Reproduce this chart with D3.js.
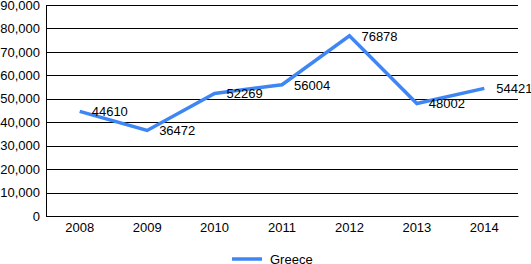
<!DOCTYPE html>
<html>
<head>
<meta charset="utf-8">
<script src="https://cdn.jsdelivr.net/npm/d3@7"></script>
<style>
  body { margin: 0; background: #fff; }
  text { font-family: "Liberation Sans", Arial, sans-serif; }
</style>
</head>
<body>
<script>
// data
var yearArray = ["2008","2009","2010","2011","2012","2013","2014"];
var greeceValues = [44610, 36472, 52269, 56004, 76878, 48002, 54421];
var seriesName = "Greece";
var yTicks = [0,10000,20000,30000,40000,50000,60000,70000,80000,90000];

var width = 531, height = 264;
var margin = {left: 46, right: 13, top: 5, bottom: 48};
var innerW = width - margin.left - margin.right;
var innerH = height - margin.top - margin.bottom;
var lineColor = "#3d86f4";
var fontSize = 13;

var svg = d3.select("body").append("svg").attr("width", width).attr("height", height);
var chartGroup = svg.append("g").attr("transform", "translate(" + margin.left + "," + margin.top + ")");

var x = d3.scaleBand().domain(yearArray).range([0, innerW]);
var y = d3.scaleLinear().domain([0, 90000]).range([innerH, 0]);

// gridlines
chartGroup.append("g")
  .selectAll("line").data(yTicks).enter().append("line")
  .attr("x1", 0).attr("x2", innerW)
  .attr("y1", function(d){ return Math.round(y(d)) + 0.5; })
  .attr("y2", function(d){ return Math.round(y(d)) + 0.5; })
  .attr("stroke", "#000").attr("stroke-width", 1);

// y axis
var yAxis = d3.axisLeft(y).tickValues(yTicks).tickSize(0).tickPadding(6).tickFormat(d3.format(","));
var yg = chartGroup.append("g").call(yAxis);
yg.select(".domain").attr("stroke", "#000");
yg.selectAll("text").attr("font-size", fontSize).attr("fill", "#000");

// x axis
var xAxis = d3.axisBottom(x).tickSize(0).tickPadding(7);
var xg = chartGroup.append("g").attr("transform", "translate(0," + innerH + ")").call(xAxis);
xg.select(".domain").attr("stroke", "#000");
xg.selectAll("text").attr("font-size", fontSize).attr("fill", "#000");

// line
var line = d3.line()
  .x(function(d, i){ return x(yearArray[i]) + x.bandwidth() / 2; })
  .y(function(d){ return y(d); });

chartGroup.append("path")
  .datum(greeceValues)
  .attr("d", line)
  .attr("fill", "none")
  .attr("stroke", lineColor)
  .attr("stroke-width", 3.5);

// value labels
chartGroup.append("g")
  .selectAll("text").data(greeceValues).enter().append("text")
  .attr("x", function(d, i){ return x(yearArray[i]) + x.bandwidth() / 2 + 12; })
  .attr("y", function(d){ return y(d) + 5; })
  .attr("font-size", fontSize)
  .attr("fill", "#000")
  .text(function(d){ return d; });

// legend
var legend = svg.append("g").attr("transform", "translate(232,259)");
legend.append("line").attr("x1", 0).attr("x2", 30).attr("y1", 0).attr("y2", 0)
  .attr("stroke", lineColor).attr("stroke-width", 3.5);
legend.append("text").attr("x", 38).attr("y", 5).attr("font-size", fontSize).attr("fill", "#000").text(seriesName);
</script>
</body>
</html>
